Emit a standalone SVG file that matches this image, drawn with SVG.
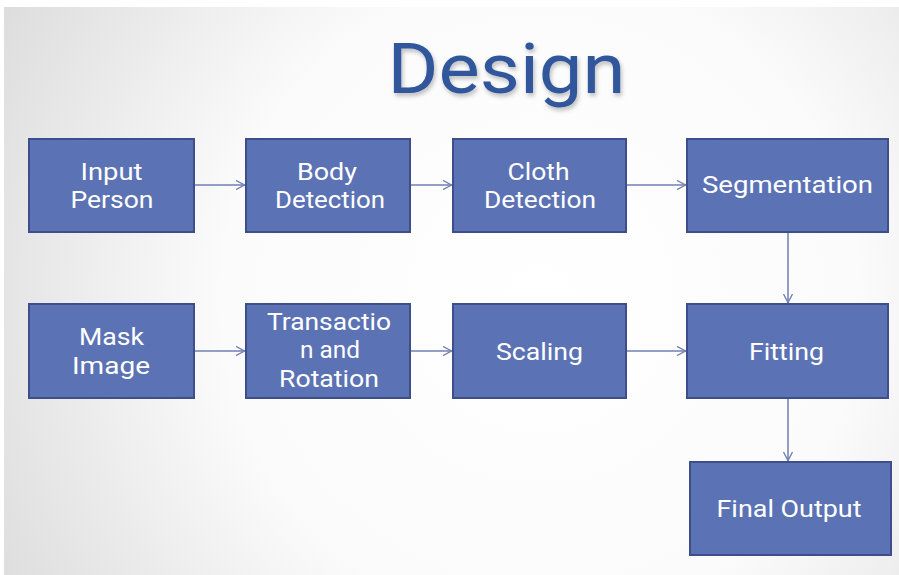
<svg xmlns="http://www.w3.org/2000/svg" width="899" height="575" viewBox="0 0 899 575">
  <defs>
    <radialGradient id="slideBg" cx="540" cy="300" r="640" gradientUnits="userSpaceOnUse">
      <stop offset="0" stop-color="#ffffff"/>
      <stop offset="0.5" stop-color="#fbfbfb"/>
      <stop offset="1" stop-color="#dadada"/>
    </radialGradient>
    <filter id="titleShadow" x="-10%" y="-20%" width="120%" height="150%">
      <feDropShadow dx="1.5" dy="3" stdDeviation="2" flood-color="#000000" flood-opacity="0.25"/>
    </filter>
    <marker id="chevron" viewBox="0 0 10 10" refX="10" refY="5" markerWidth="10" markerHeight="10" markerUnits="userSpaceOnUse" orient="auto">
      <path d="M1,0.5 L9.5,5 L1,9.5" fill="none" stroke="#6f7fb3" stroke-width="1.4"/>
    </marker>
  </defs>
  <style>
    .box { fill: #5b72b4; stroke: #3e4e8a; stroke-width: 2; }
    .label { font-family: Roboto, "Liberation Sans", sans-serif; font-size: 24px; fill: #ffffff; text-anchor: middle; }
    .title { font-family: Roboto, "Liberation Sans", sans-serif; font-size: 70px; fill: #30579b; text-anchor: middle; }
    .link { fill: none; stroke: #6f7fb3; stroke-width: 1.5; marker-end: url(#chevron); }
  </style>

  <!-- page and slide background -->
  <rect x="0" y="0" width="899" height="575" fill="#ffffff"/>
  <rect x="4" y="7" width="895" height="568" fill="url(#slideBg)"/>

  <text class="title" x="506.5" y="93" textLength="238" lengthAdjust="spacingAndGlyphs" filter="url(#titleShadow)">Design</text>

  <g id="connectors">
    <line class="link" x1="195" y1="185" x2="245" y2="185"/>
    <line class="link" x1="411" y1="185" x2="452" y2="185"/>
    <line class="link" x1="627" y1="185" x2="686" y2="185"/>
    <line class="link" x1="788" y1="233" x2="788" y2="303"/>
    <line class="link" x1="195" y1="351" x2="245" y2="351"/>
    <line class="link" x1="411" y1="351" x2="452" y2="351"/>
    <line class="link" x1="627" y1="351" x2="686" y2="351"/>
    <line class="link" x1="788" y1="399" x2="788" y2="461"/>
  </g>

  <g id="input-person">
    <rect class="box" x="29" y="139" width="165" height="93"/>
    <text class="label" x="111.5" y="180" textLength="62" lengthAdjust="spacingAndGlyphs">Input</text>
    <text class="label" x="112" y="208" textLength="83" lengthAdjust="spacingAndGlyphs">Person</text>
  </g>
  <g id="body-detection">
    <rect class="box" x="246" y="139" width="164" height="93"/>
    <text class="label" x="327" y="180" textLength="60" lengthAdjust="spacingAndGlyphs">Body</text>
    <text class="label" x="330" y="208" textLength="110" lengthAdjust="spacingAndGlyphs">Detection</text>
  </g>
  <g id="cloth-detection">
    <rect class="box" x="453" y="139" width="173" height="93"/>
    <text class="label" x="538.5" y="180" textLength="62" lengthAdjust="spacingAndGlyphs">Cloth</text>
    <text class="label" x="540" y="208" textLength="112" lengthAdjust="spacingAndGlyphs">Detection</text>
  </g>
  <g id="segmentation">
    <rect class="box" x="687" y="139" width="201" height="93"/>
    <text class="label" x="787.5" y="193" textLength="171" lengthAdjust="spacingAndGlyphs">Segmentation</text>
  </g>

  <g id="mask-image">
    <rect class="box" x="29" y="304" width="165" height="94"/>
    <text class="label" x="111.5" y="345" textLength="65" lengthAdjust="spacingAndGlyphs">Mask</text>
    <text class="label" x="111" y="374" textLength="78" lengthAdjust="spacingAndGlyphs">Image</text>
  </g>
  <g id="transaction-rotation">
    <rect class="box" x="246" y="304" width="164" height="94"/>
    <text class="label" x="329" y="330" textLength="124" lengthAdjust="spacingAndGlyphs">Transactio</text>
    <text class="label" x="330" y="358" textLength="60" lengthAdjust="spacingAndGlyphs">n and</text>
    <text class="label" x="329" y="387" textLength="100" lengthAdjust="spacingAndGlyphs">Rotation</text>
  </g>
  <g id="scaling">
    <rect class="box" x="453" y="304" width="173" height="94"/>
    <text class="label" x="539.5" y="360" textLength="87" lengthAdjust="spacingAndGlyphs">Scaling</text>
  </g>
  <g id="fitting">
    <rect class="box" x="687" y="304" width="201" height="94"/>
    <text class="label" x="786.5" y="360" textLength="75" lengthAdjust="spacingAndGlyphs">Fitting</text>
  </g>
  <g id="final-output">
    <rect class="box" x="690" y="462" width="201" height="93"/>
    <text class="label" x="789" y="517" textLength="145" lengthAdjust="spacingAndGlyphs">Final Output</text>
  </g>
</svg>
